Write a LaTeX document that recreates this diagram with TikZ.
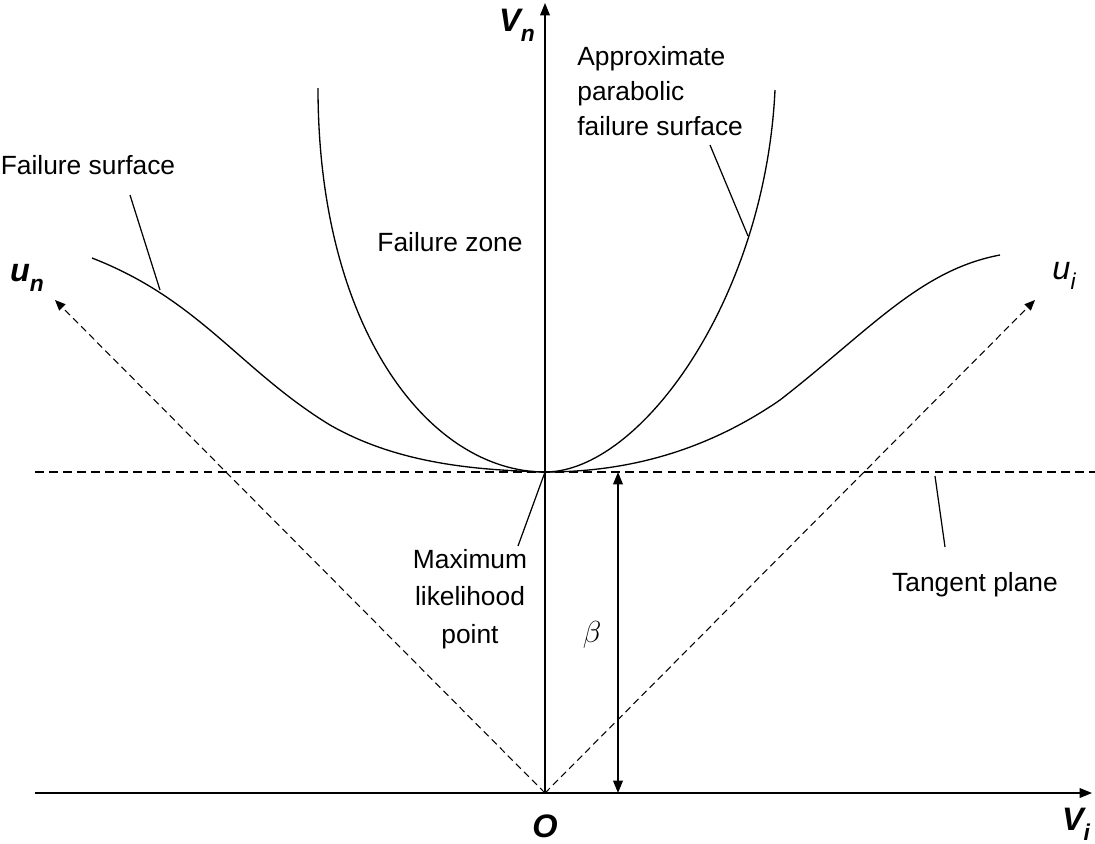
\documentclass[tikz,border=0pt]{standalone}
\usepackage{fontspec}
\setmainfont{Liberation Sans}
\usetikzlibrary{arrows.meta}
\newcommand{\subtxt}[1]{\raisebox{-0.3em}{\fontsize{13}{15}\selectfont #1}}
\begin{document}
\begin{tikzpicture}[x=0.02cm,y=-0.02cm,
  lbl/.style={font=\fontsize{15}{18}\selectfont,inner sep=0pt},
  big/.style={font=\fontsize{18.5}{21}\selectfont\bfseries\itshape,inner sep=0pt},
  ax/.style={line width=0.8pt,-{Triangle[length=7pt,width=5.5pt]}},
  dsh/.style={line width=0.6pt,dash pattern=on 4pt off 2.5pt},
  crv/.style={line width=0.75pt}]
\useasboundingbox (0,0) rectangle (1095,843);
\coordinate (O) at (545,793);
\coordinate (Vtop) at (545,3);
\coordinate (Vleft) at (35,793);
\coordinate (Vright) at (1092,793);
\coordinate (M) at (545,472);
\coordinate (TL) at (35,472);
\coordinate (TR) at (1095,472);
\coordinate (UN) at (55,300);
\coordinate (UI) at (1035,300);
\coordinate (B1) at (618,472);
\coordinate (B2) at (618,793);
\draw[ax] (O) -- (Vtop);
\draw[ax] (Vleft) -- (Vright);
\draw[dsh,line width=0.8pt,dash pattern=on 5pt off 3pt] (TL) -- (TR);
\draw[dsh,-{Triangle[length=6pt,width=5pt]}] (O) -- (UN);
\draw[dsh,-{Triangle[length=6pt,width=5pt]}] (O) -- (UI);
\draw[line width=0.8pt,{Triangle[length=7pt,width=5.5pt]}-{Triangle[length=7pt,width=5.5pt]}] (B1) -- (B2);
\draw[crv] (318,88) .. controls (318,330) and (430,472) .. (M)
  .. controls (640,472) and (765,300) .. (775,90);
\draw[crv] (92,258) .. controls (200,300) and (240,370) .. (330,425)
  .. controls (400,465) and (480,470) .. (M)
  .. controls (620,472) and (700,455) .. (780,400)
  .. controls (870,330) and (920,270) .. (1000,255);
\node[big] (vn) at (517,25) {V\subtxt{n}};
\node[big] (un) at (27,278) {u\subtxt{n}};
\node[big,font=\fontsize{18.5}{21}\selectfont\itshape] (ui) at (1064,276) {u\subtxt{i}};
\node[big] (o) at (545,826) {O};
\node[big] (vi) at (1076,824) {V\subtxt{i}};
\node[lbl] (fs) at (88,165) {Failure surface};
\node[lbl,anchor=north west,align=left,font=\fontsize{15}{20}\selectfont] (ap) at (577,46) {Approximate\\parabolic\\failure surface};
\node[lbl] (fz) at (450,242) {Failure zone};
\node[lbl,align=center,font=\fontsize{15}{21.5}\selectfont] (ml) at (470,599) {Maximum\\likelihood\\point};
\node[lbl] (tp) at (975,585) {Tangent plane};
\node[lbl,font=\fontsize{17}{19}\selectfont] (b) at (592,635) {$\beta$};
\coordinate (fsA) at (130,195); \coordinate (fsB) at (160,290);
\coordinate (apA) at (710,145); \coordinate (apB) at (748,236);
\coordinate (mlA) at (518,546);
\coordinate (tpA) at (945,547); \coordinate (tpB) at (935,476);
\draw[line width=0.7pt] (fsA) -- (fsB);
\draw[line width=0.7pt] (apA) -- (apB);
\draw[line width=0.7pt] (mlA) -- (M);
\draw[line width=0.7pt] (tpA) -- (tpB);
\end{tikzpicture}
\end{document}
